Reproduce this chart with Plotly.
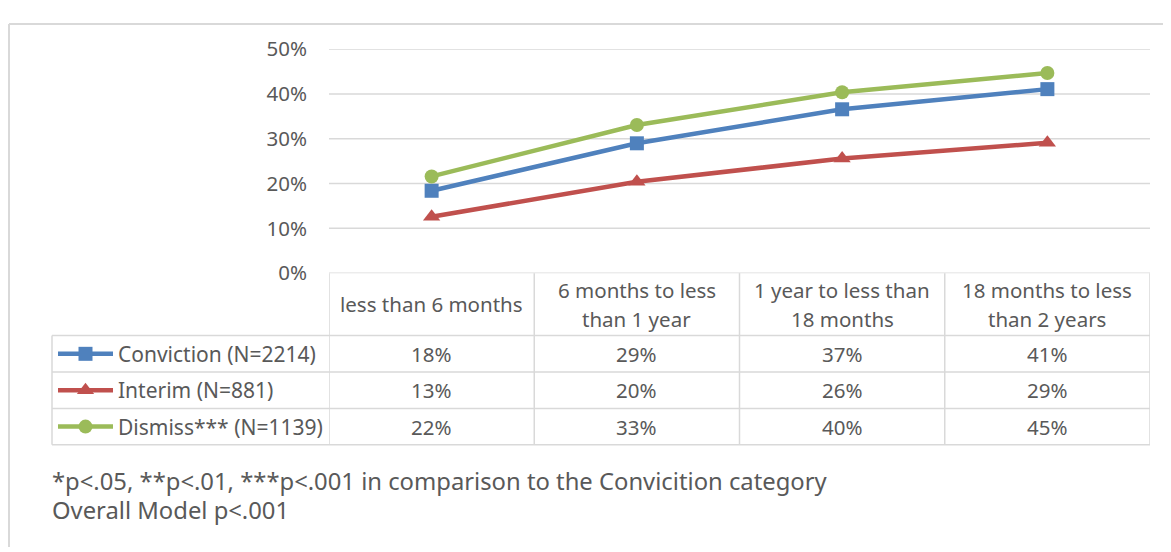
import plotly.graph_objects as go

# ---------------- data ----------------
categories = [
    "less than 6 months",
    "6 months to less than 1 year",
    "1 year to less than 18 months",
    "18 months to less than 2 years",
]
header_lines = [
    ["less than 6 months"],
    ["6 months to less", "than 1 year"],
    ["1 year to less than", "18 months"],
    ["18 months to less", "than 2 years"],
]
series_names = ["Conviction (N=2214)", "Interim (N=881)", "Dismiss*** (N=1139)"]
conviction = [0.184, 0.290, 0.366, 0.411]
interim = [0.126, 0.204, 0.256, 0.291]
dismiss = [0.216, 0.331, 0.404, 0.447]
y_ticks = [0.0, 0.1, 0.2, 0.3, 0.4, 0.5]
footnotes = [
    "*p<.05, **p<.01, ***p<.001 in comparison to the Convicition category",
    "Overall Model p<.001",
]

# ---------------- styling / layout ----------------
W, H = 1171, 552
OFF = 8  # page body margin offset
FONT = "Noto Sans"
TXT = "#595959"
GRID = "#D9D9D9"
colors = ["#4F81BD", "#C0504D", "#9BBB59"]
symbols = ["square", "triangle-up", "circle"]
msizes = [14, 15, 14]

PLOT_L, PLOT_R, PLOT_T, PLOT_B = 329, 1150, 35.7, 271.5
LEG_L = 52
HDR_BOT = 337.3
ROW_EDGES = [HDR_BOT, 375.7, 414.0, 452.3]
FS = 20.5


def px(x):
    return (x - OFF) / W


def py(y):
    return 1 - (y - OFF) / H


series_vals = [conviction, interim, dismiss]
xs = list(range(len(categories)))

fig = go.Figure()

for name, vals, c, s, ms in zip(series_names, series_vals, colors, symbols, msizes):
    fig.add_trace(go.Scatter(
        x=xs, y=vals, name=name, mode="lines+markers",
        line=dict(color=c, width=4.5),
        marker=dict(symbol=s, size=ms, color=c),
        xaxis="x", yaxis="y", showlegend=False, cliponaxis=False,
    ))

# legend swatches (pixel overlay axes)
for i, (c, s, ms) in enumerate(zip(colors, symbols, msizes)):
    yc = (ROW_EDGES[i] + ROW_EDGES[i + 1]) / 2 - OFF
    fig.add_trace(go.Scatter(
        x=[58 - OFF, 113 - OFF], y=[yc, yc], mode="lines",
        line=dict(color=c, width=4.5), xaxis="x2", yaxis="y2",
        showlegend=False, hoverinfo="skip",
    ))
    fig.add_trace(go.Scatter(
        x=[85.5 - OFF], y=[yc], mode="markers",
        marker=dict(symbol=s, size=ms, color=c), xaxis="x2", yaxis="y2",
        showlegend=False, hoverinfo="skip", cliponaxis=False,
    ))

shapes = []
line_style = dict(color=GRID, width=1.5)

# gridlines
for t in y_ticks:
    shapes.append(dict(type="line", xref="paper", yref="y", x0=px(PLOT_L), x1=px(PLOT_R),
                       y0=t, y1=t, line=line_style, layer="below"))

# table vertical lines
for i in range(len(categories) + 1):
    shapes.append(dict(type="line", xref="x", yref="paper", x0=i - 0.5, x1=i - 0.5,
                       y0=py(PLOT_B), y1=py(ROW_EDGES[-1]), line=line_style, layer="below"))
shapes.append(dict(type="line", xref="paper", yref="paper", x0=px(LEG_L), x1=px(LEG_L),
                   y0=py(HDR_BOT), y1=py(ROW_EDGES[-1]), line=line_style, layer="below"))
# table horizontal lines
for yv in ROW_EDGES:
    shapes.append(dict(type="line", xref="paper", yref="paper", x0=px(LEG_L), x1=px(PLOT_R),
                       y0=py(yv), y1=py(yv), line=line_style, layer="below"))

# outer chart border (top & left visible)
shapes.append(dict(type="line", xref="paper", yref="paper", x0=px(9), x1=px(9),
                   y0=py(9), y1=0, line=dict(color=GRID, width=2)))
shapes.append(dict(type="line", xref="paper", yref="paper", x0=px(9), x1=1,
                   y0=py(9), y1=py(9), line=dict(color=GRID, width=2)))

annotations = []
# header
hdr_c = (PLOT_B + HDR_BOT) / 2
for i, lines in enumerate(header_lines):
    n = len(lines)
    for j, t in enumerate(lines):
        yy = hdr_c + (j - (n - 1) / 2) * 30
        annotations.append(dict(x=i, xref="x", y=py(yy), yref="paper", text=t, showarrow=False,
                                xanchor="center", yanchor="middle",
                                font=dict(family=FONT, size=FS, color=TXT)))
# rows
for r, (name, vals) in enumerate(zip(series_names, series_vals)):
    yc = (ROW_EDGES[r] + ROW_EDGES[r + 1]) / 2
    annotations.append(dict(x=px(116), xref="paper", y=py(yc), yref="paper", text=name,
                            showarrow=False, xanchor="left", yanchor="middle",
                            font=dict(family=FONT, size=21, color=TXT)))
    for i, v in enumerate(vals):
        annotations.append(dict(x=i, xref="x", y=py(yc), yref="paper", text=f"{v:.0%}",
                                showarrow=False, xanchor="center", yanchor="middle",
                                font=dict(family=FONT, size=FS, color=TXT)))
# footnotes
for k, t in enumerate(footnotes):
    annotations.append(dict(x=px(50), xref="paper", y=py(490 + 31 * k), yref="paper", text=t,
                            showarrow=False, xanchor="left", yanchor="middle",
                            font=dict(family=FONT, size=23.8, color=TXT)))

fig.update_layout(
    width=W, height=H,
    margin=dict(l=0, r=0, t=0, b=0),
    paper_bgcolor="white", plot_bgcolor="rgba(0,0,0,0)",
    xaxis=dict(domain=[px(PLOT_L), px(PLOT_R)], range=[-0.5, len(categories) - 0.5],
               showgrid=False, zeroline=False, showticklabels=False, showline=False,
               anchor="y", fixedrange=True),
    yaxis=dict(domain=[py(PLOT_B), py(PLOT_T)], range=[0, 0.5], tickvals=y_ticks,
               tickformat=".0%", showgrid=False, zeroline=False, showline=False,
               ticks="", ticklabelstandoff=21, anchor="x",
               tickfont=dict(family=FONT, size=20.5, color=TXT), fixedrange=True),
    xaxis2=dict(domain=[0, 1], range=[0, W], visible=False, anchor="y2", fixedrange=True),
    yaxis2=dict(domain=[0, 1], range=[H, 0], visible=False, anchor="x2", fixedrange=True),
    shapes=shapes,
    annotations=annotations,
    showlegend=False,
)

fig.write_html("out.html")
